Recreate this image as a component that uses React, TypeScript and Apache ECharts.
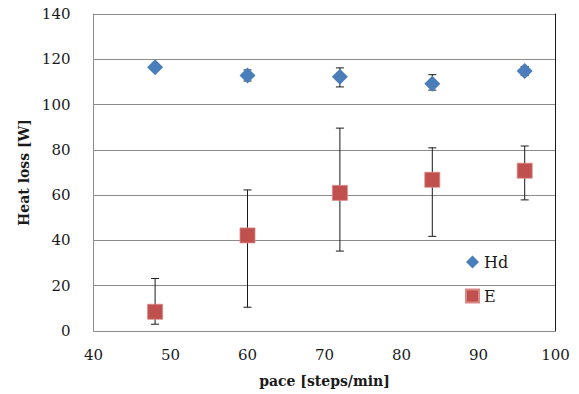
import React, { useEffect, useRef } from "react";
import * as echarts from "echarts";

const paces = [48, 60, 72, 84, 96];
const hdValues = [116.5, 112.8, 112.3, 109.2, 114.8];
const hdLow = [115.5, 110.4, 107.8, 106.4, 112.8];
const hdHigh = [117.5, 115.3, 116.2, 113.2, 116.8];
const eValues = [8.5, 42.2, 61, 66.8, 70.8];
const eLow = [3, 10.5, 35.3, 41.8, 57.9];
const eHigh = [23.2, 62.3, 89.6, 80.9, 81.7];
const yTicks = { min: 0, max: 140, interval: 20 };
const xTicks = { min: 40, max: 100, interval: 10 };

const FONT = "DejaVu Serif";

function errorSeries(low: number[], high: number[]) {
  return {
    type: "custom",
    silent: true,
    z: 1,
    data: paces.map((p, i) => [p, low[i], high[i]]),
    renderItem: (params: any, api: any) => {
      const x = api.value(0);
      const lo = api.coord([x, api.value(1)]);
      const hi = api.coord([x, api.value(2)]);
      const cap = 4;
      const style = { stroke: "#1a1a1a", lineWidth: 1 };
      return {
        type: "group",
        children: [
          { type: "line", shape: { x1: lo[0], y1: lo[1], x2: hi[0], y2: hi[1] }, style },
          { type: "line", shape: { x1: lo[0] - cap, y1: lo[1], x2: lo[0] + cap, y2: lo[1] }, style },
          { type: "line", shape: { x1: hi[0] - cap, y1: hi[1], x2: hi[0] + cap, y2: hi[1] }, style },
        ],
      };
    },
  };
}

export default function App() {
  const ref = useRef<HTMLDivElement>(null);
  useEffect(() => {
    const chart = echarts.init(ref.current!, null, { renderer: "svg" });
    chart.setOption({
      animation: false,
      backgroundColor: "#ffffff",
      textStyle: { fontFamily: FONT },
      grid: { left: 93.5, right: 23.5, top: 14, bottom: 63, outerBoundsMode: "none", containLabel: false },
      xAxis: {
        type: "value",
        min: xTicks.min,
        max: xTicks.max,
        interval: xTicks.interval,
        name: "pace [steps/min]",
        nameLocation: "middle",
        nameGap: 43,
        nameTextStyle: { fontFamily: FONT, fontWeight: "bold", fontSize: 14, color: "#1a1a1a" },
        axisLine: { show: true, lineStyle: { color: "#8c8c8c", width: 1 } },
        axisTick: { show: false },
        splitLine: { show: false },
        axisLabel: { fontFamily: FONT, fontSize: 15, color: "#1a1a1a", margin: 16 },
      },
      yAxis: [
        {
          type: "value",
          min: yTicks.min,
          max: yTicks.max,
          interval: yTicks.interval,
          name: "Heat loss [W]",
          nameLocation: "middle",
          nameGap: 59,
          nameTextStyle: { fontFamily: FONT, fontWeight: "bold", fontSize: 14, color: "#1a1a1a" },
          axisLine: { show: true, lineStyle: { color: "#8c8c8c", width: 1 } },
          axisTick: { show: false },
          splitLine: { show: true, lineStyle: { color: "#8c8c8c", width: 1 } },
          axisLabel: { fontFamily: FONT, fontSize: 15, color: "#1a1a1a", margin: 23 },
        },
        {
          type: "value",
          position: "right",
          min: yTicks.min,
          max: yTicks.max,
          interval: yTicks.interval,
          axisLine: { show: true, lineStyle: { color: "#1a1a1a", width: 1 } },
          axisTick: { show: false },
          axisLabel: { show: false },
          splitLine: { show: false },
        },
      ],
      legend: {
        orient: "vertical",
        left: 465,
        top: 254,
        padding: 0,
        itemWidth: 13,
        itemHeight: 13,
        itemGap: 18,
        textStyle: { fontFamily: FONT, fontSize: 16, color: "#1a1a1a" },
        data: [
          { name: "Hd", icon: "diamond" },
          { name: "E", icon: "rect" },
        ],
      },
      series: [
        errorSeries(hdLow, hdHigh),
        errorSeries(eLow, eHigh),
        {
          name: "Hd",
          type: "scatter",
          symbol: "diamond",
          symbolSize: [16, 16],
          z: 3,
          itemStyle: { color: "#4a7ebb", opacity: 1 },
          data: paces.map((p, i) => [p, hdValues[i]]),
        },
        {
          name: "E",
          type: "scatter",
          symbol: "rect",
          symbolSize: 15,
          z: 3,
          itemStyle: { color: "#c0504d", borderColor: "#d98885", borderWidth: 0.8, opacity: 1 },
          data: paces.map((p, i) => [p, eValues[i]]),
        },
      ],
    });
    return () => chart.dispose();
  }, []);
  return <div ref={ref} style={{ width: 579, height: 394, position: "absolute", left: 0, top: 0 }} />;
}
